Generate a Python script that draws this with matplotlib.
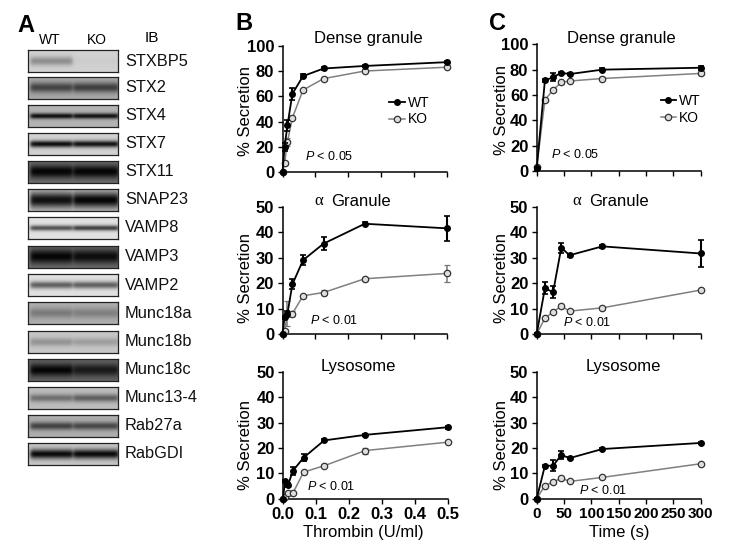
import matplotlib
matplotlib.use('Agg')
import matplotlib.pyplot as plt
from matplotlib.lines import Line2D
import numpy as np

plt.rcParams['font.family'] = ['Liberation Sans', 'DejaVu Sans']
plt.rcParams['mathtext.fontset'] = 'custom'
plt.rcParams['mathtext.it'] = 'Liberation Sans:italic'
plt.rcParams['mathtext.rm'] = 'Liberation Sans'

W, H = 730, 555

# 免疫印迹：名称、背景灰度、WT/KO 条带深度、条带宽度
blot_names = ['STXBP5', 'STX2', 'STX4', 'STX7', 'STX11', 'SNAP23', 'VAMP8', 'VAMP3',
              'VAMP2', 'Munc18a', 'Munc18b', 'Munc18c', 'Munc13-4', 'Rab27a', 'RabGDI']
blot_tops = [50, 77, 105, 133, 161, 189, 217, 246, 274, 302, 331, 359, 387, 415, 443]
blot_bg = [0.82, 0.66, 0.70, 0.82, 0.45, 0.78, 0.88, 0.45, 0.88, 0.68, 0.78, 0.40, 0.74, 0.68, 0.78]
blot_wt = [0.26, 0.40, 0.64, 0.76, 0.43, 0.72, 0.55, 0.43, 0.50, 0.20, 0.20, 0.38, 0.30, 0.42, 0.74]
blot_ko = [0.02, 0.42, 0.62, 0.74, 0.43, 0.76, 0.62, 0.40, 0.50, 0.18, 0.16, 0.30, 0.36, 0.40, 0.74]
blot_sigma = [3.2, 3.4, 2.0, 2.4, 4.5, 5.5, 2.0, 5.0, 2.6, 3.6, 3.0, 4.5, 2.8, 2.8, 3.4]

# B 列：凝血酶剂量
dose = [0, 0.00625, 0.015, 0.03, 0.0625, 0.125, 0.25, 0.5]
dense_dose_wt = [0, 20, 37, 62, 76, 82, 84, 87]
dense_dose_wt_err = [0, 3, 4, 4.5, 1.5, 1, 1, 1]
dense_dose_ko = [0, 7, 24, 43, 65, 74, 80, 83]
dense_dose_ko_err = [0, 1, 3, 1, 1, 1, 1, 1]
alpha_dose_wt = [0, 6.5, 8, 19.5, 29, 35.5, 43.3, 41.5]
alpha_dose_wt_err = [0, 0.5, 1, 2, 2, 2.5, 0.5, 5]
alpha_dose_ko = [0, 1.2, 8, 8, 15, 16.3, 21.7, 23.8]
alpha_dose_ko_err = [0, 0.3, 5, 1, 0.5, 1, 0.7, 3.3]
lyso_dose_wt = [0, 7, 5.3, 11, 16.2, 23, 25.2, 28.2]
lyso_dose_wt_err = [0, 0.5, 0.7, 1.5, 1.5, 0.5, 0.5, 0.5]
lyso_dose_ko = [0, 0.8, 2.2, 2.2, 10.5, 13, 19, 22.3]
lyso_dose_ko_err = [0, 0.3, 0.5, 0.5, 0.5, 0.5, 1.2, 0.5]

# C 列：时间
times = [0, 15, 30, 45, 60, 120, 300]
dense_time_wt = [2, 71.5, 74, 77.5, 76.5, 80, 81.5]
dense_time_wt_err = [1, 1, 3, 1, 1, 1, 1.5]
dense_time_ko = [3, 56, 64, 70, 71, 73, 77]
dense_time_ko_err = [1, 1, 1, 1, 1, 1, 1]
alpha_time_wt = [0, 18, 16.5, 34, 31, 34.5, 31.7]
alpha_time_wt_err = [0.3, 2.3, 2.5, 2, 0.5, 0.5, 5.3]
alpha_time_ko = [0, 6.2, 8.7, 11, 9, 10.3, 17.3]
alpha_time_ko_err = [0.2, 0.3, 0.3, 0.3, 0.3, 0.3, 0.3]
lyso_time_wt = [0, 13, 13, 17.3, 16, 19.6, 22]
lyso_time_wt_err = [0.2, 0.3, 2.2, 1.5, 0.5, 0.5, 0.5]
lyso_time_ko = [0, 5.2, 6.5, 8.2, 6.8, 8.4, 13.8]
lyso_time_ko_err = [0.2, 0.3, 0.3, 0.3, 0.3, 0.3, 0.3]

dose_ticks = [0.0, 0.1, 0.2, 0.3, 0.4, 0.5]
time_ticks = [0, 50, 100, 150, 200, 250, 300]

KO_STYLE = dict(color='#808080', lw=1.1, marker='o', ms=4.6, mfc='#dddddd', mec='#333333', mew=0.9)
WT_STYLE = dict(color='black', lw=1.3, marker='o', ms=4.0, mfc='black', mec='black')

fig = plt.figure(figsize=(W / 100, H / 100), dpi=100)


def add_ax(x0, x1, y_top, y_bottom):
    return fig.add_axes([x0 / W, 1 - y_bottom / H, (x1 - x0) / W, (y_bottom - y_top) / H])


def put_text(x, y, s, **kw):
    kw.setdefault('va', 'center')
    fig.text(x / W, 1 - y / H, s, **kw)


def draw_blot(top, bg, wt, ko, sigma):
    ax = add_ax(28, 118, top, top + 22)
    yy, xx = np.mgrid[0:22, 0:90]
    wt_lane = 0.5 * (np.tanh((xx - 2) / 2.0) - np.tanh((xx - 44) / 2.0))
    ko_lane = 0.5 * (np.tanh((xx - 45) / 2.0) - np.tanh((xx - 90) / 2.0))
    band = np.exp(-(yy - 10.5) ** 2 / (2 * sigma ** 2))
    img = bg - band * (wt * wt_lane + ko * ko_lane)
    ax.imshow(img, cmap='gray', vmin=0, vmax=1, aspect='auto', interpolation='bilinear')
    ax.set_xticks([])
    ax.set_yticks([])
    for s in ax.spines.values():
        s.set_linewidth(0.9)
        s.set_color('#222222')


for name, top, bg, wt, ko, sigma in zip(blot_names, blot_tops, blot_bg, blot_wt, blot_ko, blot_sigma):
    draw_blot(top, bg, wt, ko, sigma)
    put_text(125, top + 11, name, fontsize=11.8, color='#111111')

put_text(17, 25, 'A', fontsize=17, fontweight='bold')
put_text(50, 40, 'WT', fontsize=10, ha='center')
put_text(97, 40, 'KO', fontsize=10, ha='center')
put_text(152, 38, 'IB', fontsize=11, ha='center')
put_text(235, 24, 'B', fontsize=17, fontweight='bold')
put_text(489, 24, 'C', fontsize=17, fontweight='bold')


def draw_panel(box, x, wt, wt_err, ko, ko_err, xlim, xticks, xfmt, ymax, yticks, show_x, x_size=12):
    ax = add_ax(*box)
    ax.errorbar(x, ko, yerr=ko_err, ecolor='#777777', elinewidth=1.1, capsize=2.5, clip_on=False,
                zorder=3, **KO_STYLE)
    ax.errorbar(x, wt, yerr=wt_err, ecolor='black', elinewidth=1.5, capsize=2.5, capthick=1.2,
                clip_on=False, zorder=4, **WT_STYLE)
    ax.set_xlim(0, xlim)
    ax.set_ylim(0, ymax)
    ax.set_xticks(xticks)
    ax.set_yticks(yticks)
    if show_x:
        ax.set_xticklabels([xfmt % t for t in xticks])
    else:
        ax.set_xticklabels([])
    for s in ['top', 'right']:
        ax.spines[s].set_visible(False)
    for s in ['left', 'bottom']:
        ax.spines[s].set_linewidth(1.1)
    ax.tick_params(length=3.5, width=1.0, pad=2.5)
    for t in ax.get_yticklabels():
        t.set_fontweight('bold')
        t.set_fontsize(12)
    for t in ax.get_xticklabels():
        t.set_fontweight('bold')
        t.set_fontsize(x_size)
    ax.patch.set_alpha(0)
    return ax


def add_legend(ax, x_anchor):
    handles = [Line2D([], [], **WT_STYLE), Line2D([], [], **KO_STYLE)]
    ax.legend(handles, ['WT', 'KO'], loc='center left', bbox_to_anchor=(x_anchor, 0.484), frameon=False,
              fontsize=10, handlelength=1.1, handletextpad=0.2, labelspacing=0.2,
              borderpad=0, borderaxespad=0)


box_b = [(282.5, 447, 45.7, 172.3), (282.5, 447, 206.7, 334), (283, 447.7, 372, 498.7)]
box_c = [(536.7, 700.7, 44.3, 171), (536.7, 700.7, 207, 334), (536.7, 700.7, 372, 498.7)]
y100 = [0, 20, 40, 60, 80, 100]
y50 = [0, 10, 20, 30, 40, 50]

ax = draw_panel(box_b[0], dose, dense_dose_wt, dense_dose_wt_err, dense_dose_ko, dense_dose_ko_err,
                0.5, dose_ticks, '%.1f', 100, y100, False)
add_legend(ax, 0.65)
draw_panel(box_b[1], dose, alpha_dose_wt, alpha_dose_wt_err, alpha_dose_ko, alpha_dose_ko_err,
           0.5, dose_ticks, '%.1f', 50, y50, False)
draw_panel(box_b[2], dose, lyso_dose_wt, lyso_dose_wt_err, lyso_dose_ko, lyso_dose_ko_err,
           0.5, dose_ticks, '%.1f', 50, y50, True)

ax = draw_panel(box_c[0], times, dense_time_wt, dense_time_wt_err, dense_time_ko, dense_time_ko_err,
                300, time_ticks, '%d', 100, y100, False)
add_legend(ax, 0.755)
draw_panel(box_c[1], times, alpha_time_wt, alpha_time_wt_err, alpha_time_ko, alpha_time_ko_err,
           300, time_ticks, '%d', 50, y50, False)
draw_panel(box_c[2], times, lyso_time_wt, lyso_time_wt_err, lyso_time_ko, lyso_time_ko_err,
           300, time_ticks, '%d', 50, y50, True, x_size=11)

# 标题和坐标轴文字
put_text(368, 39, 'Dense granule', fontsize=12, ha='center')
put_text(621, 39, 'Dense granule', fontsize=12, ha='center')
put_text(319, 201, 'α', fontsize=12, ha='center', family='Liberation Serif')
put_text(331, 201, 'Granule', fontsize=12, ha='left')
put_text(577, 201, 'α', fontsize=12, ha='center', family='Liberation Serif')
put_text(589, 201, 'Granule', fontsize=12, ha='left')
put_text(358, 367, 'Lysosome', fontsize=12, ha='center')
put_text(623, 367, 'Lysosome', fontsize=12, ha='center')
put_text(363, 533, 'Thrombin (U/ml)', fontsize=12, ha='center')
put_text(619, 533, 'Time (s)', fontsize=12, ha='center')

for x, ys in [(246, (111, 278, 445)), (501, (110, 278, 445))]:
    for y in ys:
        put_text(x, y, '% Secretion', fontsize=12, rotation=90, ha='center')

put_text(305, 156, r'$\mathit{P}$ < 0.05', fontsize=9)
put_text(310, 321, r'$\mathit{P}$ < 0.01', fontsize=9)
put_text(307, 486, r'$\mathit{P}$ < 0.01', fontsize=9)
put_text(551, 154, r'$\mathit{P}$ < 0.05', fontsize=9)
put_text(563, 323, r'$\mathit{P}$ < 0.01', fontsize=9)
put_text(579, 490, r'$\mathit{P}$ < 0.01', fontsize=9)

fig.savefig('out.png', dpi=100)
